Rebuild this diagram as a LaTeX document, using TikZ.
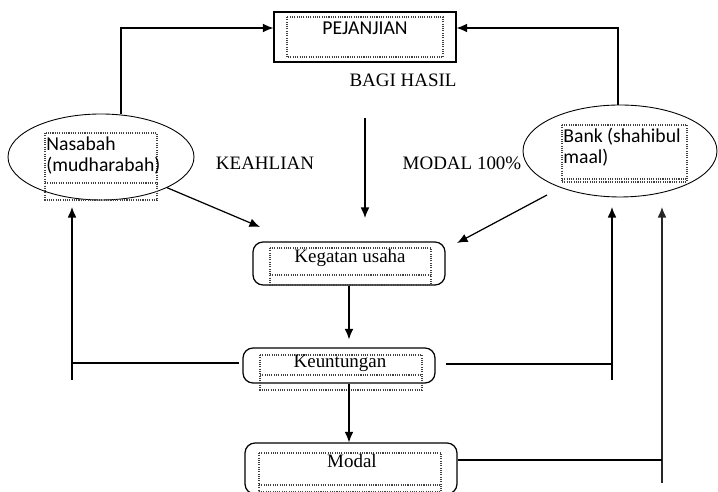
\documentclass[tikz,border=0pt]{standalone}
\usepackage{fontspec}
\setmainfont{Liberation Serif}
\newfontfamily\calibrifont{Carlito}
\usetikzlibrary{shapes.geometric, arrows.meta}

\begin{document}
\begin{tikzpicture}[
    x=0.02cm, y=-0.02cm,
    line width=0.7pt,
    every node/.style={font=\fontsize{10.8}{13}\selectfont, inner sep=1pt},
    kotak/.style={draw, rectangle, inner sep=0pt},
    bulat/.style={draw, ellipse, inner sep=0pt, line width=0.5pt},
    titik/.style={dash pattern=on 0.6pt off 0.7pt, line width=0.6pt, black!75},
    sans/.style={font=\fontsize{11.2}{12}\selectfont\calibrifont, align=left},
    panah/.style={-{Latex[length=6pt, width=5pt]}},
]
\useasboundingbox (0,0) rectangle (718,492);

% Kotak pejanjian
\node[kotak, minimum width=3.64cm, minimum height=1cm] (pejanjian) at (365,37) {};
\draw[titik] (287,17) rectangle (443,57);
\node[sans] (pejtxt) at (365,28) {PEJANJIAN};

% Nasabah dan bank
\node[bulat, minimum width=3.72cm, minimum height=1.72cm] (nasabah) at (101,157) {};
\draw[titik] (45,133) rectangle (157,200);
\draw[titik] (45,183) -- (157,183);
\node[sans, anchor=north west] (nastxt) at (44,134) {Nasabah\\(mudharabah)};

\node[bulat, minimum width=3.88cm, minimum height=1.84cm] (bank) at (620,151) {};
\draw[titik] (562,125) rectangle (687,182);
\draw[titik] (562,179) -- (687,179);
\node[sans, anchor=north west] (banktxt) at (561,126) {Bank (shahibul\\maal)};

% Keterangan
\node (bagi) at (403,80) {BAGI HASIL};
\node (keahlian) at (265,163) {KEAHLIAN};
\node (modal100) at (462,163) {MODAL 100\%};

% Kotak tengah
\node[kotak, rounded corners=0.2cm, minimum width=3.84cm, minimum height=0.86cm] (kegatan) at (349,263.5) {};
\draw[titik] (270,248) rectangle (431,285);
\draw[titik] (270,275) -- (431,275);
\node (kegtxt) at (350,258) {Kegatan usaha};

\node[kotak, rounded corners=0.2cm, minimum width=3.84cm, minimum height=0.7cm] (untung) at (339,365.5) {};
\draw[titik] (260,355) rectangle (422,390);
\draw[titik] (260,375) -- (422,375);
\node (untungtxt) at (340,363) {Keuntungan};

\node[kotak, rounded corners=0.2cm, minimum width=4.24cm, minimum height=1.02cm] (modal) at (351,468.5) {};
\draw[titik] (259,453) rectangle (441,492);
\draw[titik] (259,485) -- (441,485);
\node (modaltxt) at (352,461) {Modal};

% Titik bantu
\coordinate (kiriatas) at (121,28);
\coordinate (kananatas) at (618,28);
\coordinate (tengahatas) at (365,118);
\coordinate (tengahbawah) at (365,218);
\coordinate (nasujung) at (260,227);
\coordinate (bankpangkal) at (547,195);
\coordinate (bankujung) at (457,243);
\coordinate (kiribawah) at (72,380);
\coordinate (kiripanah) at (72,207);
\coordinate (kirisiku) at (72,363);
\coordinate (kanan1bawah) at (612,380);
\coordinate (kanan1panah) at (612,207);
\coordinate (kanan1siku) at (612,364);
\coordinate (kanan2bawah) at (662,483);
\coordinate (kanan2panah) at (662,207);
\coordinate (kanan2siku) at (662,460);

% Panah ke pejanjian
\draw[panah] (nasabah.north -| kiriatas) -- (kiriatas) -- (pejanjian.west |- kiriatas);
\draw[panah] (bank.north -| kananatas) -- (kananatas) -- (pejanjian.east |- kananatas);

% Panah ke kegatan usaha
\draw[panah] (tengahatas) -- (tengahbawah);
\draw[panah] (nasabah.south east) -- (nasujung);
\draw[panah] (bankpangkal) -- (bankujung);

% Alur ke bawah
\draw[panah, shorten >=0.16cm] (kegatan.south) -- (kegatan.south |- untung.north);
\draw[panah] (kegatan.south |- untung.south) -- (kegatan.south |- modal.north);

% Alur balik
\draw[panah] (kiribawah) -- (kiripanah);
\draw[shorten >=0.06cm] (kirisiku) -- (kirisiku -| untung.west);
\draw[panah] (kanan1bawah) -- (kanan1panah);
\draw[shorten <=0.2cm] (kanan1siku -| untung.east) -- (kanan1siku);
\draw[panah, black!85] (kanan2bawah) -- (kanan2panah);
\draw (kanan2siku -| modal.east) -- (kanan2siku);

\end{tikzpicture}
\end{document}
